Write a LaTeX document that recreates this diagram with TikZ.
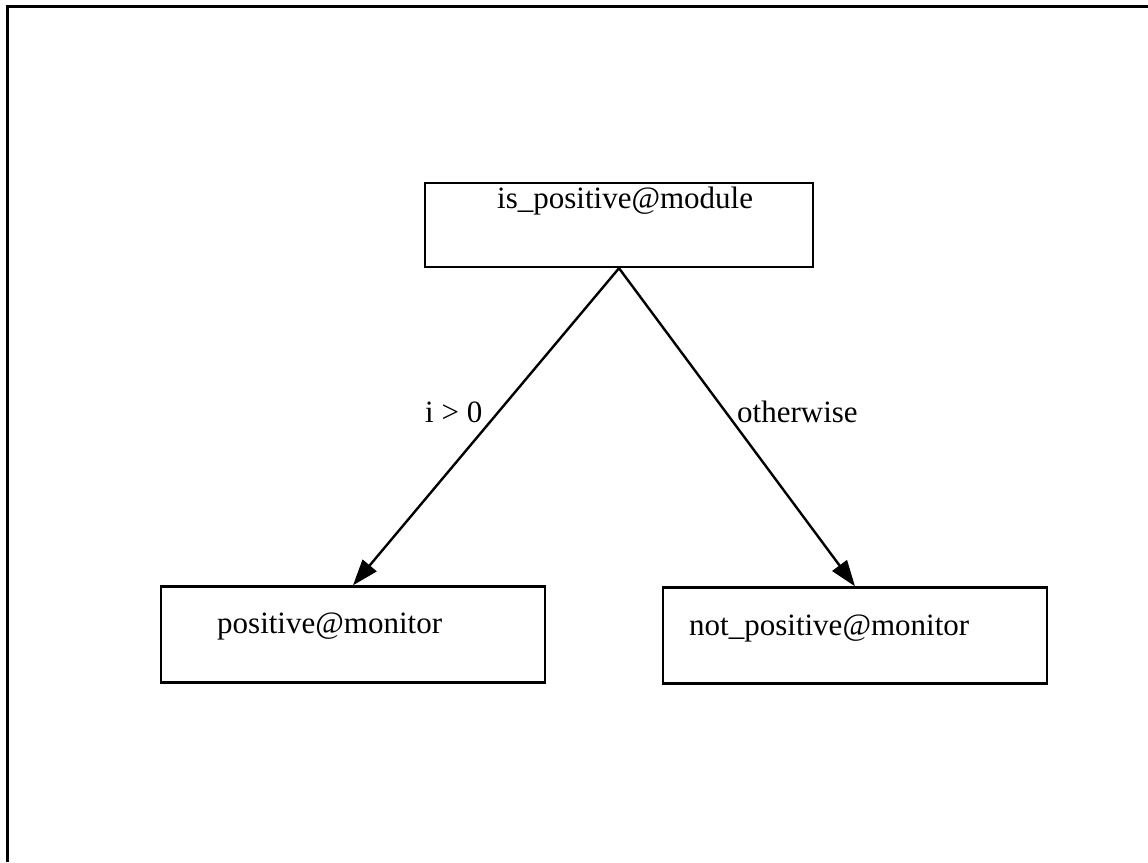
\documentclass[tikz,border=0pt]{standalone}
\usepackage{fontspec}
\setmainfont{Liberation Serif}
\usetikzlibrary{arrows.meta}
\begin{document}
\begin{tikzpicture}[x=1pt,y=-1pt,
  box/.style={draw=black,line width=2.4pt,rectangle,inner sep=0pt},
  txt/.style={inner sep=0pt,anchor=base west,font=\fontsize{31}{37}\selectfont},
  conn/.style={draw=black,line width=2.4pt,-{Triangle[length=26pt,width=18pt]}}]
\useasboundingbox (0,0) rectangle (1148,862);
\fill[white] (0,0) rectangle (1148,862);
% outer frame (only top and left edges visible)
\coordinate (fa) at (7,862);
\coordinate (fb) at (7,6.5);
\coordinate (fc) at (1148,6.5);
\draw[line width=3pt] (fa) -- (fb) -- (fc);
% boxes
\node[box,minimum width=388pt,minimum height=84pt] (top) at (619,225) {};
\node[box,minimum width=384pt,minimum height=96pt] (left) at (353,634.5) {};
\node[box,minimum width=384pt,minimum height=96pt] (right) at (855,635.5) {};
% texts
\node[txt] (ttop) at (497,208) {is\_positive@module};
\node[txt] (tleft) at (217,633) {positive@monitor};
\node[txt] (tright) at (689,635) {not\_positive@monitor};
% connectors
\draw[conn] (top.south) -- (left.north);
\draw[conn] (top.south) -- (right.north);
% edge labels
\node[txt] (l1) at (425,422) {i > 0};
\node[txt] (l2) at (737,422) {otherwise};
\end{tikzpicture}
\end{document}
